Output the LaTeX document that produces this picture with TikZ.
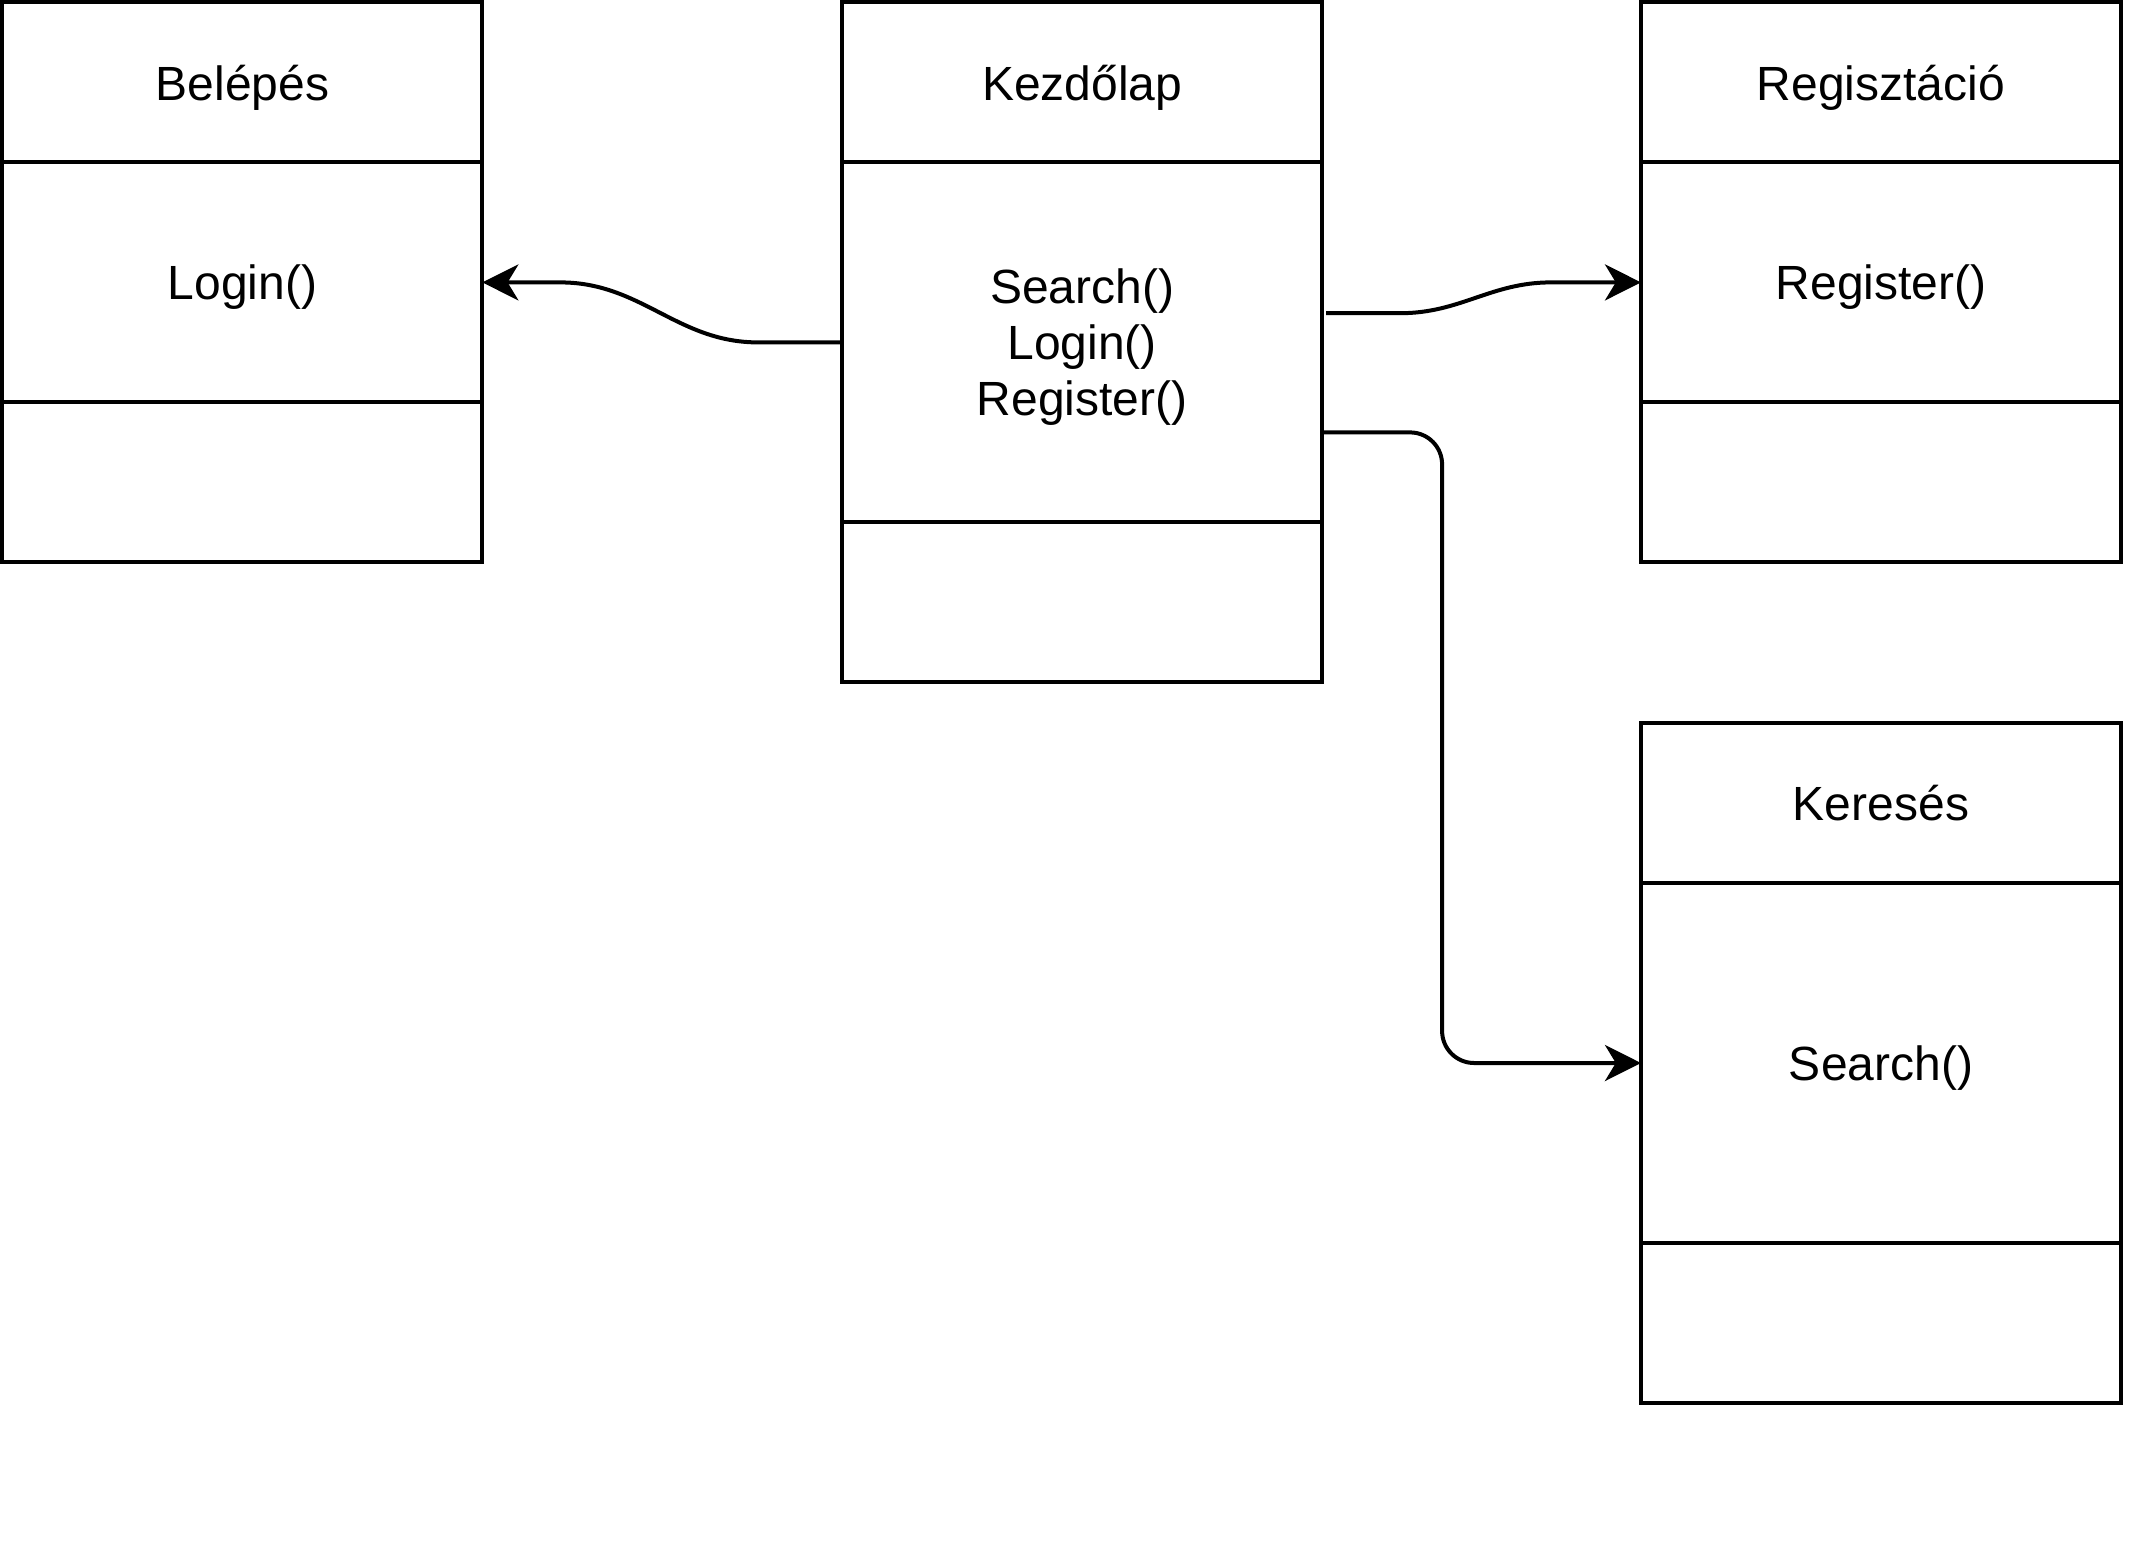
\documentclass[tikz,border=0pt]{standalone}
\usepackage{fontspec}
\setmainfont{Liberation Sans}
\usetikzlibrary{
    arrows.meta,
    positioning
}
\tikzset{clsh/.style={draw=black, line width=1pt, outer sep=0pt, inner sep=0pt, anchor=north west, minimum width=120pt, minimum height=40pt, text depth=0pt, align=center, font=\fontsize{12}{14}\selectfont}}
\tikzset{clsm/.style={clsh, minimum height=60pt}}
\tikzset{clsl/.style={clsh, minimum height=90pt}}
\tikzset{conn/.style={line width=1pt, -{Stealth[length=9pt, width=9pt, inset=2.7pt]}}}

\begin{document}
\begin{tikzpicture}[x=0.75pt, y=-0.75pt]
                        \useasboundingbox (0, 0) rectangle (714.67, 517.33);
                        \node[clsh] (bl0) at (0.8, 0.8) {Belépés};
                        \node[clsm, below=0pt of bl0] (bl1) {Login()};
                        \node[clsh, below=0pt of bl1] (bl2) {};
                        \node[clsh] (kz0) at (280.7, 0.8) {Kezdőlap};
                        \node[clsl, below=0pt of kz0] (kz1) {Search()\\Login()\\Register()};
                        \node[clsh, below=0pt of kz1] (kz2) {};
                        \node[clsh] (rg0) at (547, 0.8) {Regisztáció};
                        \node[clsm, below=0pt of rg0] (rg1) {Register()};
                        \node[clsh, below=0pt of rg1] (rg2) {};
                        \node[clsh] (kr0) at (547, 241) {Keresés};
                        \node[clsl, below=0pt of kr0] (kr1) {Search()};
                        \node[clsh, below=0pt of kr1] (kr2) {};

                        \draw[conn] (kz1.west) -- ++(-28, 0) to[out=180, in=0] ([xshift=19.5pt]bl1.east) -- (bl1.east);
                        \draw[conn] ([xshift=1pt, yshift=7.3pt]kz1.east) -- ++(24.7, 0) to[out=0, in=180] ([xshift=-22.5pt]rg1.west) -- (rg1.west);
                        \draw[conn, rounded corners=8pt] ([yshift=-22.5pt]kz1.east) -- ++(40, 0) |- (kr1.west);
                    \end{tikzpicture}
\end{document}
